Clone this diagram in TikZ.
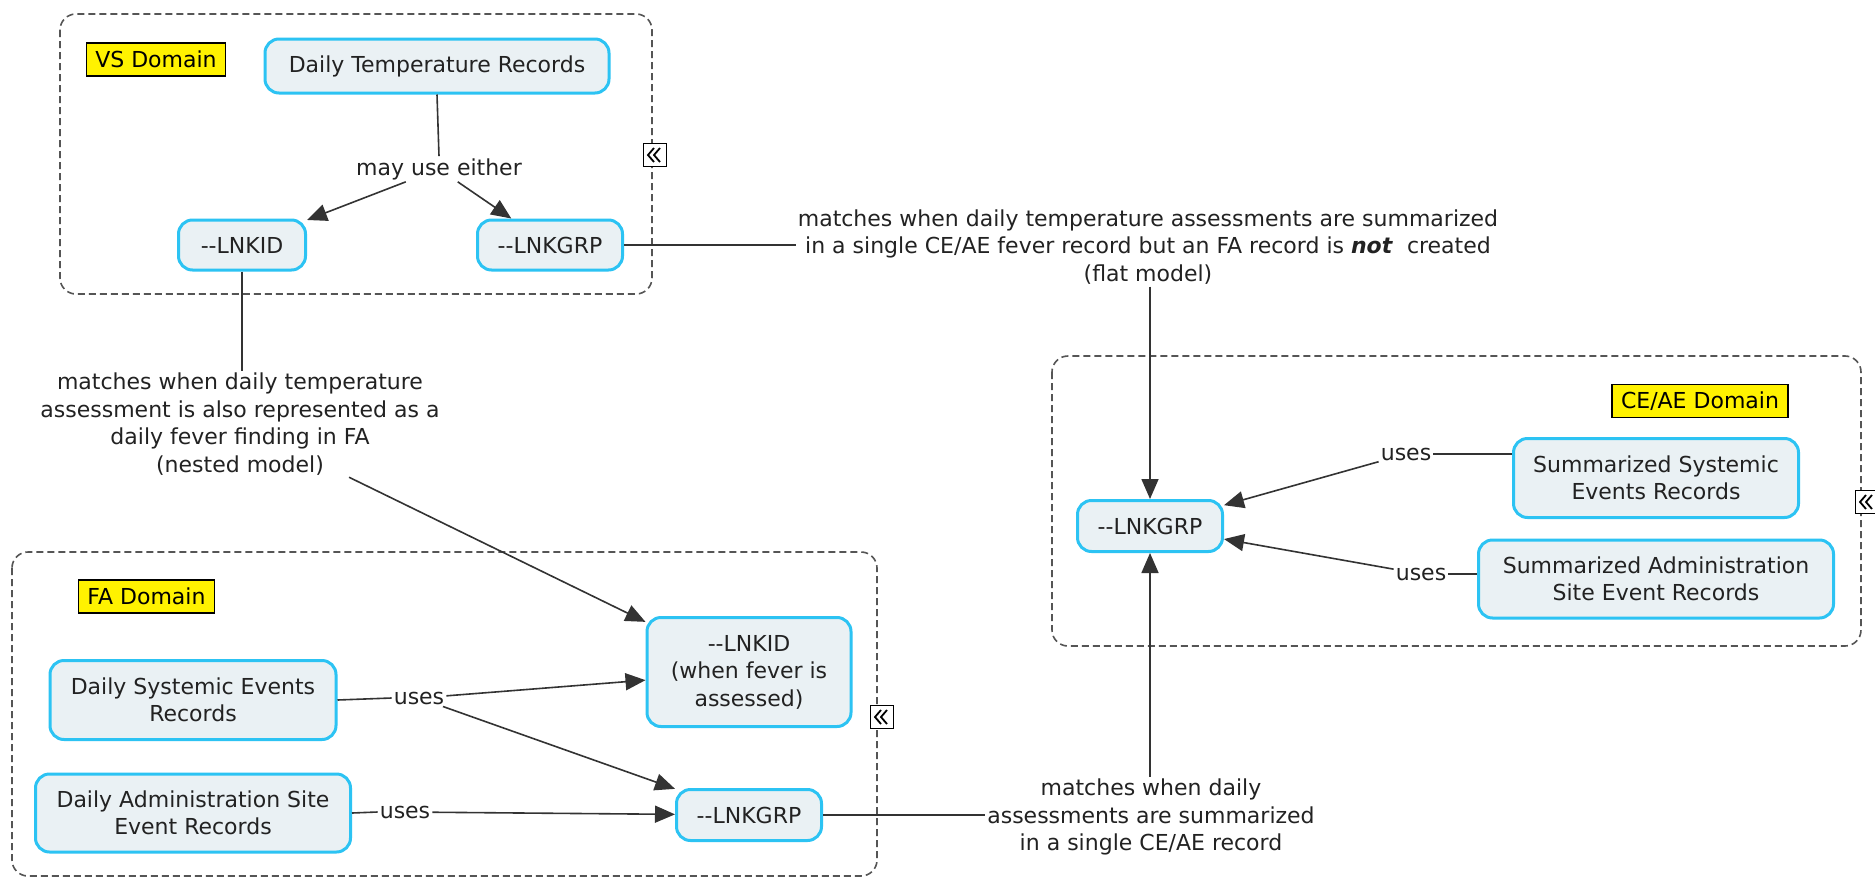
\documentclass[tikz,border=0pt]{standalone}
\usepackage{fontspec}
\setmainfont{DejaVu Sans}
\usetikzlibrary{arrows.meta}
\definecolor{nodefill}{HTML}{EAF1F4}
\definecolor{nodeedge}{HTML}{2CC3F3}
\definecolor{linec}{HTML}{333333}
\definecolor{boxc}{HTML}{555555}
\definecolor{txt}{HTML}{222222}
\begin{document}
\begin{tikzpicture}[x=1pt,y=-1pt, font=\fontsize{22}{27.5}\selectfont, text=txt,
 concept/.style={rectangle, rounded corners=14pt, draw=nodeedge, line width=3pt, fill=nodefill, align=center, inner sep=2pt},
 domlabel/.style={rectangle, draw=black, line width=1.5pt, fill=yellow, inner xsep=9pt, minimum height=33pt, text=black},
 domainbox/.style={draw=boxc, line width=1.6pt, dash pattern=on 7pt off 4pt, rounded corners=16pt},
 linklabel/.style={align=center, inner sep=2pt},
 conn/.style={draw=linec, line width=1.6pt},
 arr/.style={conn, -{Triangle[length=20pt,width=17pt]}},
 marker/.style={rectangle, draw=black, line width=1.4pt, fill=white, minimum size=23pt, inner sep=0pt},
 chev/.style={draw=black, line width=1.8pt}]
\useasboundingbox (0,0) rectangle (1875,878);
\fill[white] (0,0) rectangle (1875,878);

% domain boxes
\draw[domainbox] (60,14) rectangle (652,294);
\draw[domainbox] (1052,356) rectangle (1861,646);
\draw[domainbox] (12,552) rectangle (877,876);

% markers
\node[marker] (mvs) at (655,155) {};
\draw[chev, shift={(mvs.center)}] (-1,-7) -- (-7,0) -- (-1,7) (5,-7) -- (-1,0) -- (5,7);
\node[marker] (mfa) at (882,717) {};
\draw[chev, shift={(mfa.center)}] (-1,-7) -- (-7,0) -- (-1,7) (5,-7) -- (-1,0) -- (5,7);
\node[marker] (mce) at (1867,502) {};
\draw[chev, shift={(mce.center)}] (-1,-7) -- (-7,0) -- (-1,7) (5,-7) -- (-1,0) -- (5,7);

% domain labels
\node[domlabel] (vslab) at (156,59.5) {VS Domain};
\node[domlabel] (falab) at (146.5,596.5) {FA Domain};
\node[domlabel] (celab) at (1700,401) {CE/AE Domain};

% VS domain
\node[concept, minimum width=344pt, minimum height=54pt] (dtr) at (437,66) {Daily Temperature Records};
\node[linklabel] (may) at (439,169) {may use either};
\node[concept, minimum width=127pt, minimum height=50pt] (vsid) at (242,245) {-{}-LNKID};
\node[concept, minimum width=145pt, minimum height=50pt] (vsgrp) at (550,245) {-{}-LNKGRP};

% flat model label
\node[linklabel] (flat) at (1148,247) {matches when daily temperature assessments are summarized\\in a single CE/AE fever record but an FA record is \textbf{\textit{not}}\ \ created\\(flat model)};

% CE/AE domain
\node[concept, minimum width=145pt, minimum height=51pt] (cegrp) at (1150,526) {-{}-LNKGRP};
\node[concept, minimum width=285pt, minimum height=79pt] (sser) at (1656,478) {Summarized Systemic\\Events Records};
\node[concept, minimum width=355pt, minimum height=78pt] (saser) at (1656,579) {Summarized Administration\\Site Event Records};
\node[linklabel] (c1) at (1406,454) {uses};
\node[linklabel] (c2) at (1421,574) {uses};

% nested label
\node[linklabel] (nested) at (240,424) {matches when daily temperature\\assessment is also represented as a\\daily fever finding in FA\\(nested model)};

% FA domain
\node[concept, minimum width=286pt, minimum height=79pt] (dser) at (193,700) {Daily Systemic Events\\Records};
\node[concept, minimum width=315pt, minimum height=78pt] (daser) at (193,813) {Daily Administration Site\\Event Records};
\node[concept, minimum width=204pt, minimum height=109pt] (faid) at (749,672) {-{}-LNKID\\(when fever is\\assessed)};
\node[concept, minimum width=145pt, minimum height=51pt] (fagrp) at (749,815) {-{}-LNKGRP};
\node[linklabel] (f1) at (419,698) {uses};
\node[linklabel] (f2) at (405,812) {uses};

% bottom label
\node[linklabel] (bottom) at (1151,817) {matches when daily\\assessments are summarized\\in a single CE/AE record};

% connectors
\draw[conn] (dtr.south) -- (may.north);
\draw[arr] (may) -- (vsid);
\draw[arr] (may) -- (vsgrp);
\draw[conn] (vsgrp.east) -- (vsgrp.east -| flat.west);
\draw[arr] (flat.south -| cegrp.north) -- (cegrp.north);
\draw[conn] (vsid.south) -- (vsid.south |- nested.north);
\draw[arr] (nested) -- (faid);
\draw[conn] (dser.east) -- (f1.west);
\draw[arr] (f1) -- (faid);
\draw[arr] (f1) -- (fagrp);
\draw[conn] (daser.east) -- (f2.west);
\draw[arr] (f2) -- (fagrp);
\draw[conn] (fagrp.east) -- (fagrp.east -| bottom.west);
\draw[arr] (bottom.north -| cegrp.south) -- (cegrp.south);
\draw[conn] (c1.east) -- (c1.east -| sser.west);
\draw[arr] (c1) -- (cegrp);
\draw[conn] (c2.east) -- (c2.east -| saser.west);
\draw[arr] (c2) -- (cegrp);
\end{tikzpicture}
\end{document}
